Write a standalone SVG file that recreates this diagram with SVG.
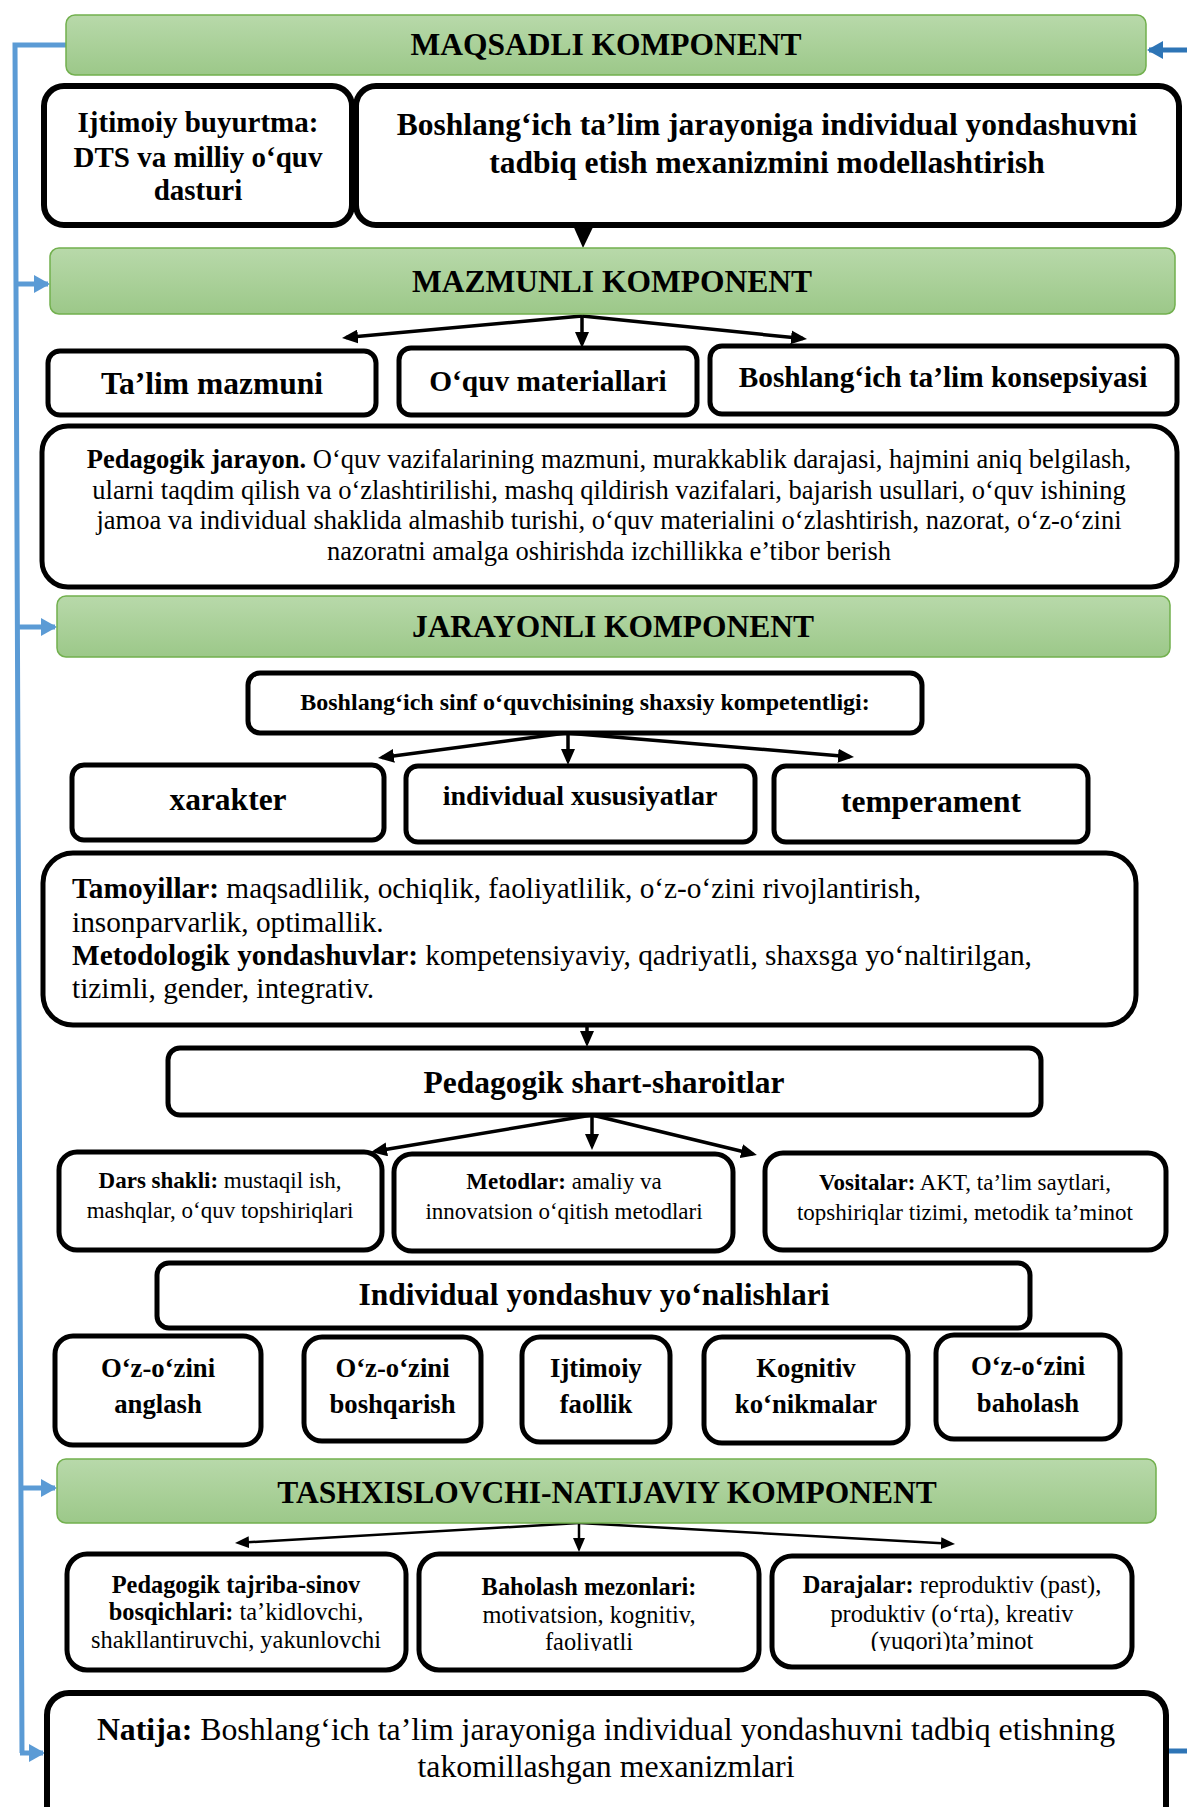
<svg xmlns="http://www.w3.org/2000/svg" width="1187" height="1807" viewBox="0 0 1187 1807">
<style>
.box{fill:#fff;stroke:#000;stroke-width:5}
.thick{stroke-width:6}
.hdr{fill:url(#gg);stroke:#72b04e;stroke-width:1.5}
text{font-family:"Liberation Serif","Times New Roman",serif;fill:#000}
.c{text-anchor:middle}
.b{font-weight:bold}
.ar{stroke:#000;fill:none;stroke-width:3.5;marker-end:url(#ah)}
.ar2{stroke:#000;fill:none;stroke-width:2.5;marker-end:url(#ah2)}
.bl{stroke:#5b9bd5;fill:none;stroke-width:5}
.bla{stroke:#5b9bd5;fill:none;stroke-width:5;marker-end:url(#bh)}
.db{stroke:#2e75b6;fill:none;stroke-width:5}
</style>
<defs>
<linearGradient id="gg" x1="0" y1="0" x2="0" y2="1">
<stop offset="0" stop-color="#b8d9aa"/>
<stop offset="1" stop-color="#9cc889"/>
</linearGradient>
<marker id="ah" markerUnits="userSpaceOnUse" markerWidth="16" markerHeight="14" refX="12" refY="7" orient="auto">
<path d="M0,0 L16,7 L0,14 z" fill="#000"/>
</marker>
<marker id="ah2" markerUnits="userSpaceOnUse" markerWidth="14" markerHeight="12" refX="10" refY="6" orient="auto">
<path d="M0,0 L14,6 L0,12 z" fill="#000"/>
</marker>
<marker id="bh" markerUnits="userSpaceOnUse" markerWidth="16" markerHeight="18" refX="14" refY="9" orient="auto">
<path d="M0,0 L16,9 L0,18 z" fill="#5b9bd5"/>
</marker>
<marker id="dbh" markerUnits="userSpaceOnUse" markerWidth="16" markerHeight="18" refX="14" refY="9" orient="auto">
<path d="M0,0 L16,9 L0,18 z" fill="#2e75b6"/>
</marker>
<clipPath id="clipb"><rect x="0" y="1500" width="1187" height="151"/></clipPath>
</defs>

<g id="connectors">
<path class="bl" d="M66,45 H15 L22,1753"/>
<line class="bla" x1="16" y1="284" x2="48" y2="284"/>
<line class="bla" x1="17" y1="627" x2="55" y2="627"/>
<line class="bla" x1="21" y1="1488" x2="55" y2="1488"/>
<line class="bla" x1="20" y1="1753" x2="43" y2="1753"/>
<line stroke="#2e75b6" stroke-width="5" marker-end="url(#dbh)" x1="1190" y1="50" x2="1149" y2="50"/>
<line class="db" x1="1166" y1="1751" x2="1190" y2="1751"/>
<polygon points="572,223 595,223 583,248" fill="#000"/>
<line class="ar" x1="582" y1="316" x2="346" y2="337.6"/>
<line class="ar" x1="582" y1="316" x2="582" y2="344"/>
<line class="ar" x1="582" y1="316" x2="803" y2="338.6"/>
<line class="ar" x1="566" y1="733" x2="382" y2="757.5"/>
<line class="ar" x1="568" y1="733" x2="568" y2="761"/>
<line class="ar" x1="566" y1="733" x2="850" y2="756.7"/>
<line class="ar" x1="587" y1="1025" x2="587" y2="1043"/>
<line class="ar" x1="592" y1="1115" x2="375" y2="1151.3"/>
<line class="ar" x1="592" y1="1115" x2="592" y2="1146"/>
<line class="ar" x1="592" y1="1115" x2="753" y2="1154"/>
<line class="ar2" x1="579" y1="1523" x2="239" y2="1542.8"/>
<line class="ar2" x1="579" y1="1523" x2="579" y2="1548"/>
<line class="ar2" x1="579" y1="1523" x2="951" y2="1543.8"/>
</g>

<g id="maqsadli">
<rect class="hdr" x="66" y="15" width="1080" height="60" rx="9"/>
<text class="c b" x="606" y="55" font-size="31.5">MAQSADLI KOMPONENT</text>
</g>
<g id="ijtimoiy">
<rect class="box thick" x="44" y="86" width="308" height="139" rx="20"/>
<text class="c b" font-size="29" x="198" y="132">Ijtimoiy buyurtma:</text>
<text class="c b" font-size="29" x="198" y="167">DTS va milliy o‘quv</text>
<text class="c b" font-size="29" x="198" y="200">dasturi</text>
</g>
<g id="modellashtirish">
<rect class="box thick" x="356" y="86" width="823" height="139" rx="20"/>
<text class="c b" font-size="31.5" x="767" y="135">Boshlang‘ich ta’lim jarayoniga individual yondashuvni</text>
<text class="c b" font-size="31.5" x="767" y="173">tadbiq etish mexanizmini modellashtirish</text>
</g>
<g id="mazmunli">
<rect class="hdr" x="50" y="248" width="1125" height="66" rx="9"/>
<text class="c b" x="612" y="292" font-size="31.5">MAZMUNLI KOMPONENT</text>
</g>
<g id="talim-mazmuni">
<rect class="box" x="48" y="351" width="328" height="64" rx="12"/>
<text class="c b" font-size="31.5" x="212" y="394">Ta’lim mazmuni</text>
</g>
<g id="oquv-materiallari">
<rect class="box" x="399" y="348" width="298" height="67" rx="12"/>
<text class="c b" font-size="29.4" x="548" y="391">O‘quv materiallari</text>
</g>
<g id="konsepsiya">
<rect class="box" x="710" y="346" width="467" height="68" rx="12"/>
<text class="c b" font-size="29.3" x="943" y="387">Boshlang‘ich ta’lim konsepsiyasi</text>
</g>
<g id="pedagogik-jarayon">
<rect class="box" x="42" y="426" width="1135" height="161" rx="26"/>
<text class="c" font-size="26.5" x="609" y="468"><tspan class="b">Pedagogik jarayon.</tspan> O‘quv vazifalarining mazmuni, murakkablik darajasi, hajmini aniq belgilash,</text>
<text class="c" font-size="26.5" x="609" y="499">ularni taqdim qilish va o‘zlashtirilishi, mashq qildirish vazifalari, bajarish usullari, o‘quv ishining</text>
<text class="c" font-size="26.5" x="609" y="529">jamoa va individual shaklida almashib turishi, o‘quv materialini o‘zlashtirish, nazorat, o‘z-o‘zini</text>
<text class="c" font-size="26.5" x="609" y="560">nazoratni amalga oshirishda izchillikka e’tibor berish</text>
</g>
<g id="jarayonli">
<rect class="hdr" x="57" y="596" width="1113" height="61" rx="9"/>
<text class="c b" x="613" y="637" font-size="31.5">JARAYONLI KOMPONENT</text>
</g>
<g id="kompetentlik">
<rect class="box" x="248" y="673" width="674" height="60" rx="12"/>
<text class="c b" font-size="24" x="585" y="710">Boshlang‘ich sinf o‘quvchisining shaxsiy kompetentligi:</text>
</g>
<g id="xarakter">
<rect class="box" x="72" y="765" width="312" height="75" rx="12"/>
<text class="c b" font-size="31.5" x="228" y="810">xarakter</text>
</g>
<g id="individual-xususiyatlar">
<rect class="box" x="406" y="766" width="349" height="76" rx="12"/>
<text class="c b" font-size="28" x="580" y="805">individual xususiyatlar</text>
</g>
<g id="temperament">
<rect class="box" x="774" y="766" width="314" height="76" rx="12"/>
<text class="c b" font-size="31.5" x="931" y="812">temperament</text>
</g>
<g id="tamoyillar">
<rect class="box" x="43" y="853" width="1093" height="172" rx="30"/>
<text font-size="29.3" x="72" y="898"><tspan class="b">Tamoyillar:</tspan> maqsadlilik, ochiqlik, faoliyatlilik, o‘z-o‘zini rivojlantirish,</text>
<text font-size="29.3" x="72" y="932">insonparvarlik, optimallik.</text>
<text font-size="29.3" x="72" y="965"><tspan class="b">Metodologik yondashuvlar:</tspan> kompetensiyaviy, qadriyatli, shaxsga yo‘naltirilgan,</text>
<text font-size="29.3" x="72" y="998">tizimli, gender, integrativ.</text>
</g>
<g id="shart-sharoitlar">
<rect class="box" x="168" y="1048" width="873" height="67" rx="12"/>
<text class="c b" font-size="31.5" x="604" y="1093">Pedagogik shart-sharoitlar</text>
</g>
<g id="dars-shakli">
<rect class="box" x="59" y="1152" width="323" height="98" rx="18"/>
<text class="c" font-size="23" x="220" y="1188"><tspan class="b">Dars shakli:</tspan> mustaqil ish,</text>
<text class="c" font-size="23" x="220" y="1218">mashqlar, o‘quv topshiriqlari</text>
</g>
<g id="metodlar">
<rect class="box" x="394" y="1154" width="339" height="97" rx="18"/>
<text class="c" font-size="23" x="564" y="1189"><tspan class="b">Metodlar:</tspan> amaliy va</text>
<text class="c" font-size="23" x="564" y="1219">innovatsion o‘qitish metodlari</text>
</g>
<g id="vositalar">
<rect class="box" x="765" y="1153" width="401" height="97" rx="18"/>
<text class="c" font-size="23" x="965" y="1190"><tspan class="b">Vositalar:</tspan> AKT, ta’lim saytlari,</text>
<text class="c" font-size="23" x="965" y="1220">topshiriqlar tizimi, metodik ta’minot</text>
</g>
<g id="yonalishlar">
<rect class="box" x="157" y="1263" width="873" height="65" rx="12"/>
<text class="c b" font-size="31.5" x="594" y="1305">Individual yondashuv yo‘nalishlari</text>
</g>
<g id="ozini-anglash">
<rect class="box" x="55" y="1336" width="206" height="109" rx="18"/>
<text class="c b" font-size="26.7" x="158" y="1377">O‘z-o‘zini</text>
<text class="c b" font-size="26.7" x="158" y="1413">anglash</text>
</g>
<g id="ozini-boshqarish">
<rect class="box" x="304" y="1337" width="177" height="104" rx="18"/>
<text class="c b" font-size="26.7" x="392.5" y="1377">O‘z-o‘zini</text>
<text class="c b" font-size="26.7" x="392.5" y="1413">boshqarish</text>
</g>
<g id="ijtimoiy-faollik">
<rect class="box" x="522" y="1337" width="148" height="105" rx="18"/>
<text class="c b" font-size="26.7" x="596" y="1377">Ijtimoiy</text>
<text class="c b" font-size="26.7" x="596" y="1413">faollik</text>
</g>
<g id="kognitiv">
<rect class="box" x="704" y="1337" width="204" height="106" rx="18"/>
<text class="c b" font-size="26.7" x="806" y="1377">Kognitiv</text>
<text class="c b" font-size="26.7" x="806" y="1413">ko‘nikmalar</text>
</g>
<g id="ozini-baholash">
<rect class="box" x="936" y="1335" width="184" height="104" rx="18"/>
<text class="c b" font-size="26.7" x="1028" y="1375">O‘z-o‘zini</text>
<text class="c b" font-size="26.7" x="1028" y="1412">baholash</text>
</g>
<g id="tashxislovchi">
<rect class="hdr" x="57" y="1459" width="1099" height="64" rx="9"/>
<text class="c b" x="607" y="1503" font-size="31.5">TASHXISLOVCHI-NATIJAVIY KOMPONENT</text>
</g>
<g id="tajriba-sinov">
<rect class="box" x="67" y="1554" width="339" height="116" rx="20"/>
<text class="c" font-size="24.4" x="236" y="1593"><tspan class="b">Pedagogik tajriba-sinov</tspan></text>
<text class="c" font-size="24.4" x="236" y="1620"><tspan class="b">bosqichlari:</tspan> ta’kidlovchi,</text>
<text class="c" font-size="24.4" x="236" y="1648">shakllantiruvchi, yakunlovchi</text>
</g>
<g id="baholash">
<rect class="box" x="419" y="1554" width="340" height="116" rx="20"/>
<g clip-path="url(#clipb)">
<text class="c" font-size="24.4" x="589" y="1595"><tspan class="b">Baholash mezonlari:</tspan></text>
<text class="c" font-size="24.4" x="589" y="1623">motivatsion, kognitiv,</text>
<text class="c" font-size="24.4" x="589" y="1650">faoliyatli</text>
</g>
</g>
<g id="darajalar">
<rect class="box" x="772" y="1556" width="360" height="111" rx="20"/>
<g clip-path="url(#clipb)">
<text class="c" font-size="24.4" x="952" y="1593"><tspan class="b">Darajalar:</tspan> reproduktiv (past),</text>
<text class="c" font-size="24.4" x="952" y="1622">produktiv (o‘rta), kreativ</text>
<text class="c" font-size="24.4" x="952" y="1649">(yuqori)ta’minot</text>
</g>
</g>
<g id="natija">
<rect class="box thick" x="47" y="1693" width="1119" height="150" rx="22"/>
<text class="c" font-size="31.8" x="606" y="1740"><tspan class="b">Natija:</tspan> Boshlang‘ich ta’lim jarayoniga individual yondashuvni tadbiq etishning</text>
<text class="c" font-size="31.8" x="606" y="1777">takomillashgan mexanizmlari</text>
</g>
</svg>
